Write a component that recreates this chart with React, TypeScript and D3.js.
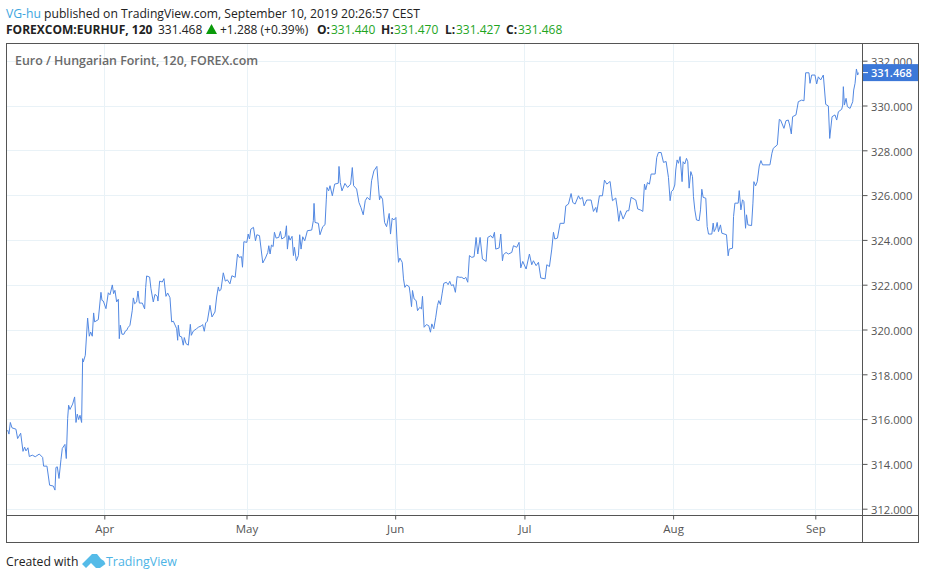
import * as d3 from "d3";
import { useEffect, useRef } from "react";

// x values are trading days counted from Apr 1 (weekends are collapsed on this axis)
const marchDays = [-14.96,-14.75,-14.54,-14.28,-13.67,-13.41,-12.94,-12.58,-12.33,-12.12,-11.81,-11.6,-11.14,-10.68,-10.06,-9.54,-9.39,-8.87,-8.46,-7.89,-7.63,-7.48,-7.27,-7.01,-6.7,-6.5,-6.09,-5.88,-5.67,-5.52,-5.31,-4.9,-4.59,-4.38,-4.18,-3.97,-3.76,-3.51,-3.35,-3.25,-2.94,-2.58,-2.32,-2.11,-1.86,-1.65,-1.5,-0.93,-0.52,-0.36,-0.15];
const marchPrices = [315.51,315.33,315.85,315.61,315.55,315.13,315.37,314.56,314.75,314.58,314.72,314.33,314.39,314.32,314.44,314.29,313.9,313.9,313.05,313.01,312.83,313.84,313.87,313.35,314.2,314.69,314.87,314.24,316.03,316.62,316.43,316.67,316.99,315.85,316.22,315.98,316.17,315.85,318.7,318.55,318.85,320.51,319.7,319.89,319.7,320.74,320.34,320.44,321.66,321.3,321.27];

const aprilDays = [0.26,0.62,0.88,1.24,1.44,1.65,1.91,2.17,2.32,2.48,2.73,3.04,3.25,3.46,3.66,3.97,4.33,4.49,4.69,5,5.21,5.42,5.88,6.24,6.4,6.55,7.01,7.22,7.58,7.84,8.2,8.3,8.56,8.97,9.23,9.54,9.8,10.16,10.42,10.68,11.19,11.35,11.45,11.66,11.96,12.22,12.38,12.64,13,13.31,13.46,13.77,14.29,14.6,15.01,15.21,15.47,15.68,15.94,16.35,16.66,17.12,17.38,17.64,17.79,18.05,18.41,18.72,19.03,19.44,19.74,20.25,20.61,20.87,21.23,21.38,21.59];
const aprilPrices = [320.93,321.64,321.55,321.99,321.6,321.75,321.23,321.35,319.59,320.19,319.79,319.79,319.93,319.96,320.08,320.19,320.86,321.41,321.15,321.23,321.72,321.18,321.18,320.92,321.87,322.39,322.34,321.82,321.23,321.57,321.48,321.27,322.16,322.12,322.27,321.48,321.63,321.42,320.34,320.37,320.04,319.52,320.19,319.7,319.67,319.3,319.64,319.37,319.3,320.23,319.74,319.93,320.04,320.11,320.16,320.22,319.92,320.29,320.37,321.08,320.56,320.78,321.45,321.9,321.72,321.78,322.53,322.16,322.22,322.04,322.4,322.33,323.37,323.22,323.25,322.78,323.92];

const mayDays = [22.05,22.26,22.46,22.67,23.08,23.39,23.6,24.01,24.52,24.93,25.29,25.45,25.65,25.86,26.12,26.32,26.58,26.99,27.25,27.46,27.97,28.18,28.33,28.54,28.74,29.05,29.26,29.41,29.72,30.03,30.23,30.44,30.7,31.01,31.42,32.09,32.34,32.45,32.6,33.12,33.37,33.79,34.15,34.35,34.45,34.71,34.92,35.28,35.64,36.2,36.31,36.51,36.77,37.23,37.65,38.11,38.37,38.57,39.04,39.4,39.7,40.06,40.37,40.68,41.09,41.35,41.71,42.17,42.38,42.58,42.74,43.05,43.36,43.67,44.08,44.28,44.54,44.8];
const mayPrices = [323.89,324.26,324.04,324.48,324.56,323.96,324.23,324.19,322.97,323.19,323.44,323.74,323.37,323.77,323.7,324.34,324.08,324.11,324.38,324.04,324.14,324.63,323.59,324.19,323.99,324.16,323.3,323.67,323.07,323.3,324.23,323.59,324.14,323.96,324.41,324.44,324.86,325.63,324.78,324.74,324.23,324.59,324.68,325.82,326.34,326.19,326.42,325.97,326.49,326.53,327.28,326.56,326.19,326.52,326.34,326.49,327.23,326.42,326.27,325.67,325.45,325.12,325.75,325.9,325.78,326.64,327.08,327.28,326.49,325.79,325.97,325.82,324.78,324.59,325.18,324.26,324.97,324.89];

const juneDays = [45.11,45.31,45.52,45.73,46.09,46.29,46.5,46.76,47.17,47.32,47.53,47.68,47.94,48.25,48.46,48.81,49.07,49.23,49.48,49.84,50.2,50.46,50.67,50.97,51.28,51.54,51.75,52,52.26,52.52,52.93,53.19,53.45,53.7,54.01,54.32,54.58,54.99,55.3,55.67,55.92,56.23,56.49,56.85,57.21,57.52,57.78,58.14,58.5,59.07,59.33,59.79,60.1,60.36,60.56,61.08,61.34,61.6,61.75,62.16,62.52,63.04,63.3,63.81,64.17,64.43,64.74];
const junePrices = [325,323.82,323,323.19,323,322.26,321.88,321.99,321.91,321.59,321.02,321.74,321.36,321.29,320.84,320.99,320.92,321.48,320.1,320.22,320.17,319.88,320.25,320.03,320.55,321.07,321.29,321.11,321.59,322.06,322.11,322,322.15,321.96,322,321.66,322.36,322.33,322.33,322.26,322.33,322.11,323.3,323.22,323.25,324.11,323.37,324.11,323.15,323.04,324.11,324.19,324.08,324.34,323.59,323.64,324.26,323.07,323.34,323.44,323.37,323.44,323.74,323.67,323.89,322.75,323.04];

const julyDays = [65.26,65.77,66.13,66.39,66.81,67.17,67.53,68.2,68.46,68.87,69.23,69.49,69.69,70.11,70.52,71.14,71.4,71.81,72.22,72.48,72.84,73.36,73.61,73.97,74.23,74.64,75.31,75.68,76.04,76.19,76.6,77.07,77.38,77.74,78.25,78.62,79.13,79.39,79.6,79.85,80.27,80.83,81.14,81.5,82.23,82.53,83,83.31,83.57,83.77,84.03,84.34,84.6,85.22,85.47,85.73,86.15,86.51,86.92,87.28,87.54,87.74];
const julyPrices = [322.7,323.37,322.89,323.07,322.85,323,322.3,322.26,322.89,322.81,323.59,324.34,324.04,324.08,324.74,324.74,325.52,325.6,326.07,325.67,325.6,325.97,325.82,325.9,325.52,325.78,325.78,325.27,325.45,325.23,325.97,325.97,326.67,326.49,326.61,325.75,325.87,325.38,324.83,325.3,324.93,325.3,325.3,325.9,325.78,325.38,325.33,325.27,326.49,326.24,326.56,326.49,326.94,326.94,327.68,327.9,327.9,327.46,327.5,326.79,325.75,326.16];

const augustDays = [88,88.26,88.41,88.62,88.83,89.08,89.39,89.55,89.81,90.07,90.27,90.48,90.74,91,91.15,91.36,91.62,92.03,92.24,92.44,92.65,93.06,93.27,93.48,93.99,94.2,94.35,94.61,94.82,95.02,95.33,95.54,96.26,96.52,96.68,97.19,97.35,97.56,98.07,98.23,98.49,98.74,98.95,99.21,99.36,99.57,100.14,100.35,100.5,100.76,101.02,101.33,101.59,101.84,102.98,103.29,103.5,104.12,104.43,104.63,105.15,105.46,105.82,106.03,106.29,106.49,107.01,107.37,107.89,108.25,108.51,109.02,109.18,109.44,109.95];
const augustPrices = [326.23,326.45,327.12,327.57,327.42,327.72,326.6,327.49,327.39,327.64,327.49,326.31,327.05,326.83,325.93,325.34,324.89,324.86,325.34,326.26,325.9,325.86,324.6,324.26,324.26,324.75,324.37,324.52,324.78,324.37,324.67,324.3,324.23,323.29,323.59,323.63,325.04,325.64,325.64,326.2,325.34,325.79,325.71,324.52,325.12,324.67,324.64,325.64,326.6,326.41,326.6,327.3,327.54,327.35,327.35,327.87,328.09,328.24,329.38,329.35,328.98,329.32,329.35,329.13,328.73,329.5,329.58,330.17,330.24,330.21,331.46,331.46,330.99,331.36,331.36];

const septemberDays = [110.21,110.47,110.83,111.24,111.61,112.02,112.23,112.59,113.05,113.31,113.57,114.08,114.24,114.34,114.5,114.76,114.96,115.38,115.79,115.94,116.15,116.36,116.56,116.67];
const septemberPrices = [330.96,331.28,331.14,331.36,330.05,329.98,328.53,329.5,329.58,329.35,329.72,329.83,330.02,330.84,330.02,330.32,329.95,329.87,330.17,330.69,330.99,331.63,331.36,331.468];

const allDays = [...marchDays, ...aprilDays, ...mayDays, ...juneDays, ...julyDays, ...augustDays, ...septemberDays];
const allPrices = [...marchPrices, ...aprilPrices, ...mayPrices, ...junePrices, ...julyPrices, ...augustPrices, ...septemberPrices];

const monthTicks = [0, 22, 45, 65, 88, 110];
const monthLabels = ["Apr", "May", "Jun", "Jul", "Aug", "Sep"];
const priceTicks = [312, 314, 316, 318, 320, 322, 324, 326, 328, 330, 332];
const lastPrice = 331.468;

const W = 925;
const H = 579;
const FONT = "'Open Sans', 'Noto Sans', sans-serif";
const BORDER = "#555555";
const GRID = "#e9f2f7";
const LINE = "#5288e2";
const GREEN = "#1fa51f";

const left = 6;
const right = 918;
const top = 43;
const bottom = 542;
const axisX = 862;
const axisY = 515;

const x = d3.scaleLinear().domain([0, 110]).range([104.3, 815.3]);
const y = d3.scaleLinear().domain([312, 332]).range([508.7, 60.7]);

export default function App() {
    const priceAxisRef = useRef<SVGGElement | null>(null);
    const timeAxisRef = useRef<SVGGElement | null>(null);

    useEffect(() => {
        const py = d3.select(priceAxisRef.current);
        py.selectAll("*").remove();
        py.call(d3.axisRight(y).tickValues(priceTicks).tickFormat(d3.format(".3f") as any).tickSize(5).tickPadding(3.5) as any);
        py.select(".domain").remove();
        py.selectAll("line").attr("stroke", BORDER);
        py.selectAll("text")
            .attr("fill", "#555")
            .attr("dy", "0.42em")
            .style("font-family", FONT)
            .style("font-size", "11.2px");

        const tx = d3.select(timeAxisRef.current);
        tx.selectAll("*").remove();
        tx.call(
            d3.axisBottom(x).tickValues(monthTicks).tickFormat(((d: number) => monthLabels[monthTicks.indexOf(d)]) as any).tickSize(4).tickPadding(5) as any
        );
        tx.select(".domain").remove();
        tx.selectAll("line").attr("stroke", BORDER);
        tx.selectAll("text").attr("fill", "#555").style("font-family", FONT).style("font-size", "11.5px");
    }, []);

    const line = d3
        .line<number>()
        .x((d, i) => x(allDays[i]))
        .y(d => y(d));

    return (
        <svg width={W} height={H} style={{ position: "absolute", left: 0, top: 0, background: "#fff" }} fontFamily={FONT}>
            {/* header */}
            <text x={6} y={18} fontSize={12.15}>
                <tspan fill="#3ea6e0">VG-hu</tspan>
                <tspan fill="#222"> published on TradingView.com, September 10, 2019 20:26:57 CEST</tspan>
            </text>
            <g fontSize={12} fill="#222">
                <text x={6} y={34} fontWeight={700}>FOREXCOM:EURHUF, 120</text>
                <text x={158} y={34}>331.468</text>
                <path d="M206,34 L211.5,24 L217,34 Z" fill="#0a9a0a" />
                <text x={220} y={34}>+1.288 (+0.39%)</text>
                <text x={317} y={34} fontWeight={700}>O:</text>
                <text x={331} y={34} fill={GREEN}>331.440</text>
                <text x={381} y={34} fontWeight={700}>H:</text>
                <text x={394} y={34} fill={GREEN}>331.470</text>
                <text x={445} y={34} fontWeight={700}>L:</text>
                <text x={456} y={34} fill={GREEN}>331.427</text>
                <text x={506} y={34} fontWeight={700}>C:</text>
                <text x={518} y={34} fill={GREEN}>331.468</text>
            </g>

            {/* grid */}
            <g stroke={GRID} strokeWidth={1}>
                {priceTicks.map(t => (
                    <line key={t} x1={left} x2={axisX} y1={Math.round(y(t)) + 0.5} y2={Math.round(y(t)) + 0.5} />
                ))}
                {monthTicks.map(t => (
                    <line key={t} x1={Math.round(x(t)) + 0.5} x2={Math.round(x(t)) + 0.5} y1={top} y2={axisY} />
                ))}
            </g>

            <text x={15} y={65} fontSize={12.4} fontWeight={600} fill="#6a6a6a">
                Euro / Hungarian Forint, 120, FOREX.com
            </text>

            <path d={line(allPrices) ?? ""} fill="none" stroke={LINE} strokeWidth={1} strokeLinejoin="round" />

            {/* frame */}
            <rect x={left + 0.5} y={top + 0.5} width={right - left} height={bottom - top} fill="none" stroke={BORDER} />
            <line x1={axisX + 0.5} x2={axisX + 0.5} y1={top} y2={bottom} stroke={BORDER} />
            <line x1={left} x2={right} y1={axisY + 0.5} y2={axisY + 0.5} stroke={BORDER} />

            <g ref={priceAxisRef} transform={`translate(${axisX + 0.5},0)`} />
            <g ref={timeAxisRef} transform={`translate(0,${axisY + 0.5})`} />

            {/* last price tag */}
            <rect x={axisX + 1} y={y(lastPrice) - 8.5} width={right - axisX - 1} height={17} fill="#3c78d8" />
            <line x1={axisX + 1} x2={axisX + 6} y1={y(lastPrice)} y2={y(lastPrice)} stroke="#fff" />
            <text x={871} y={y(lastPrice) + 4} fontSize={11} fontWeight={600} fill="#fff">
                {d3.format(".3f")(lastPrice)}
            </text>

            {/* footer */}
            <text x={6} y={566} fontSize={12.2} fill="#222">Created with</text>
            <path
                d="M82,564 L92,554 L97,554 L101,559 L104,561 L105.5,564 L100,568 L96,568 L91,563 L86,568 Z"
                fill="#55bbe8"
            />
            <text x={106} y={566} fontSize={12.4} fill="#4db4e6">TradingView</text>
        </svg>
    );
}
